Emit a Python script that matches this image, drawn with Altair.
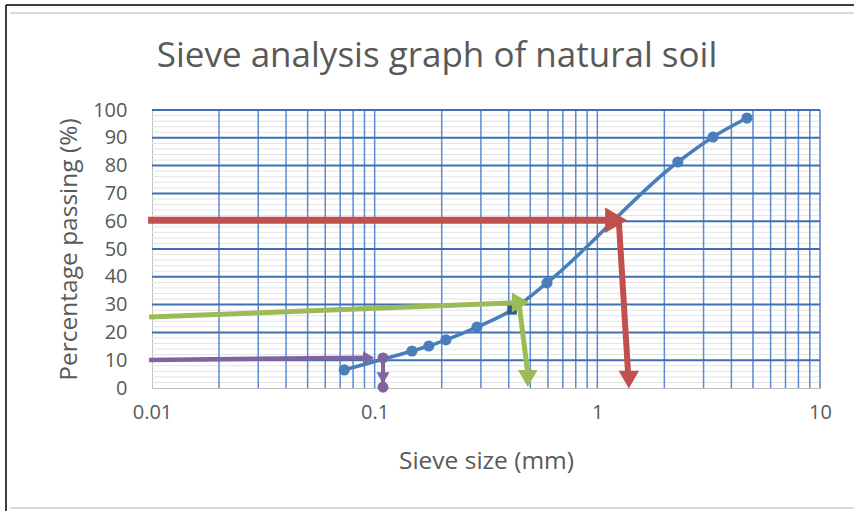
import altair as alt
import pandas as pd

# ---------------- data ----------------
sieve_mm = [0.073, 0.147, 0.175, 0.209, 0.288, 0.414, 0.594, 2.30, 3.31, 4.70]
passing_pct = [6.5, 13.3, 15.1, 17.3, 21.9, 28.1, 37.8, 81.3, 90.3, 97.1]
marker_shape = ["circle", "circle", "circle", "circle", "circle", "square", "circle", "circle", "circle", "circle"]

x_ticks = [0.01, 0.1, 1, 10]
x_grid = [0.02, 0.03, 0.04, 0.05, 0.06, 0.07, 0.08, 0.09,
          0.1, 0.2, 0.3, 0.4, 0.5, 0.6, 0.7, 0.8, 0.9,
          1, 2, 3, 4, 5, 6, 7, 8, 9, 10]
y_ticks = [0, 10, 20, 30, 40, 50, 60, 70, 80, 90, 100]
y_major_grid = [10, 20, 30, 40, 50, 60, 70, 80, 90, 100]
y_minor_grid = [2, 4, 6, 8, 12, 14, 16, 18, 22, 24, 26, 28, 32, 34, 36, 38,
                42, 44, 46, 48, 52, 54, 56, 58, 62, 64, 66, 68, 72, 74, 76, 78,
                82, 84, 86, 88, 92, 94, 96, 98]

# D60 (red), D30 (green), D10 (purple) reading arrows
red_h_x, red_h_y = [0.0096, 1.21], [60.3, 60.3]
red_v_x, red_v_y = [1.25, 1.38], [59.5, 3.0]
green_h_x, green_h_y = [0.0097, 0.445], [25.5, 30.7]
green_v_x, green_v_y = [0.445, 0.49], [30.5, 3.5]
purple_h_x, purple_h_y = [0.0097, 0.095], [10.1, 10.9]
purple_v_x, purple_v_y = [0.109, 0.109], [10.8, 0.3]

head_x = [1.215, 1.385, 0.452, 0.487, 0.094, 0.109]
head_y = [60.3, 3.0, 30.8, 3.4, 10.9, 3.6]
head_shape = ["triangle-right", "triangle-down", "triangle-right", "triangle-down", "triangle-right", "triangle-down"]
head_color = ["#C0504D", "#C0504D", "#9BBB59", "#9BBB59", "#8064A2", "#8064A2"]
head_size = [650, 420, 400, 380, 170, 170]

dot_x = [0.109, 0.109]
dot_y = [10.8, 0.3]

# ---------------- layout ----------------
W, H = 668, 278
FONT = "Open Sans"
GREY = "#595959"

xscale = alt.Scale(type="log", domain=[0.01, 10], nice=False)
yscale = alt.Scale(domain=[0, 100], nice=False)

x_axis = alt.Axis(values=x_ticks, title="Sieve size (mm)", grid=False, ticks=False, tickSize=0,
                  domainColor="#BFBFBF", domainWidth=1,
                  labelFont=FONT, labelFontSize=20, labelColor=GREY, labelPadding=14,
                  labelExpr="datum.value == 0.01 ? '0.01' : datum.value == 0.1 ? '0.1' : datum.value == 1 ? '1' : '10'",
                  labelFlush=False, labelOverlap=False,
                  titleFont=FONT, titleFontSize=24.5, titleColor=GREY, titleFontWeight="normal",
                  titlePadding=27)
y_axis = alt.Axis(values=y_ticks, title="Percentage passing (%)", grid=False, ticks=False, tickSize=0,
                  domainColor="#BFBFBF", domainWidth=1,
                  labelFont=FONT, labelFontSize=20, labelColor=GREY, labelPadding=25,
                  labelFlush=False, labelOverlap=False,
                  titleFont=FONT, titleFontSize=24.5, titleColor=GREY, titleFontWeight="normal",
                  titlePadding=11)

def X(field="x"):
    return alt.X(f"{field}:Q", scale=xscale, axis=x_axis)

def Y(field="y"):
    return alt.Y(f"{field}:Q", scale=yscale, axis=y_axis)

main = pd.DataFrame({"x": sieve_mm, "y": passing_pct, "shape": marker_shape})

def seg(xs, ys):
    return pd.DataFrame({"x": xs, "y": ys, "o": list(range(len(xs)))})

# minor horizontal grid (light grey)
minor = alt.Chart(pd.DataFrame({"y": y_minor_grid})).mark_rule(
    color="#E3E3E3", strokeWidth=1
).encode(y=Y(), x=alt.value(0), x2=alt.value(W))

vgrid = alt.Chart(pd.DataFrame({"x": x_grid})).mark_rule(
    color="#5B8BD0", strokeWidth=1.5
).encode(x=X(), y=alt.value(0), y2=alt.value(H))

hgrid = alt.Chart(pd.DataFrame({"y": y_major_grid})).mark_rule(
    color="#3F6EB5", strokeWidth=2
).encode(y=Y(), x=alt.value(0), x2=alt.value(W))

curve = alt.Chart(main).mark_line(color="#4A7EBB", strokeWidth=3.5, interpolate="monotone").encode(
    x=X(), y=Y()
)
points = alt.Chart(main).mark_point(filled=True, opacity=1).encode(
    x=X(), y=Y(),
    shape=alt.Shape("shape:N", scale=None),
    color=alt.condition("datum.shape == 'square'", alt.value("#2E5A93"), alt.value("#4A7EBB")),
    size=alt.condition("datum.shape == 'square'", alt.value(90), alt.value(125)),
)

def arrow(xs, ys, color, width):
    return alt.Chart(seg(xs, ys)).mark_line(color=color, strokeWidth=width, clip=False).encode(
        x=X(), y=Y(), order="o:O"
    )

red_h = arrow(red_h_x, red_h_y, "#C0504D", 7)
red_v = arrow(red_v_x, red_v_y, "#C0504D", 6)
green_h = arrow(green_h_x, green_h_y, "#9BBB59", 5)
green_v = arrow(green_v_x, green_v_y, "#9BBB59", 5)
purple_h = arrow(purple_h_x, purple_h_y, "#8064A2", 4.5)
purple_v = arrow(purple_v_x, purple_v_y, "#8064A2", 4)

heads = alt.Chart(pd.DataFrame({"x": head_x, "y": head_y, "shape": head_shape,
                                "color": head_color, "size": head_size})).mark_point(
    filled=True, opacity=1, clip=False
).encode(
    x=X(), y=Y(),
    shape=alt.Shape("shape:N", scale=None),
    color=alt.Color("color:N", scale=None),
    size=alt.Size("size:Q", scale=None),
)

dots = alt.Chart(pd.DataFrame({"x": dot_x, "y": dot_y})).mark_point(
    filled=True, opacity=1, color="#8064A2", size=120, clip=False
).encode(x=X(), y=Y())

# outer frame of the picture
frame_df = pd.DataFrame({"k": [0]})
frame_left = alt.Chart(frame_df).mark_rule(color="#000000", strokeWidth=1.5).encode(
    x=alt.value(-146), y=alt.value(-105), y2=alt.value(401))
frame_top = alt.Chart(frame_df).mark_rule(color="#000000", strokeWidth=1.5).encode(
    x=alt.value(-146), x2=alt.value(702), y=alt.value(-105))
frame_top2 = alt.Chart(frame_df).mark_rule(color="#D9D9D9", strokeWidth=2).encode(
    x=alt.value(-142), x2=alt.value(702), y=alt.value(-97))
frame_bot = alt.Chart(frame_df).mark_rule(color="#D9D9D9", strokeWidth=2).encode(
    x=alt.value(-142), x2=alt.value(702), y=alt.value(398))

chart = alt.layer(
    minor, vgrid, hgrid, curve, points,
    red_h, red_v, green_h, green_v, purple_h, purple_v, heads, dots,
    frame_left, frame_top, frame_top2, frame_bot
).properties(
    width=W, height=H,
    title=alt.TitleParams("Sieve analysis graph of natural soil", font=FONT, fontSize=35,
                          fontWeight="normal", color=GREY, anchor="middle", frame="group",
                          dx=-49, dy=70, offset=0),
    autosize=alt.AutoSizeParams(type="none"),
    padding={"left": 152, "top": 110, "right": 34, "bottom": 123},
).configure_view(stroke=None).configure(background="white")

chart.save("out.html", embed_options={"renderer": "svg", "actions": False})
